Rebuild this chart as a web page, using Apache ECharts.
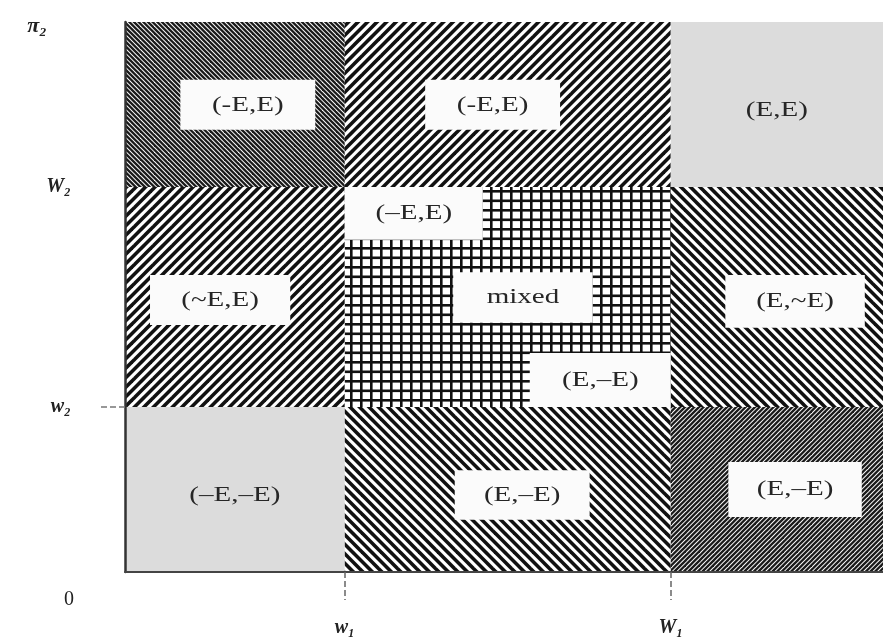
<!DOCTYPE html>
<html><head><meta charset="utf-8">
<script src="https://cdn.jsdelivr.net/npm/echarts@6/dist/echarts.min.js"></script>
<style>html,body{margin:0;padding:0;background:#fff}#c{width:883px;height:642px}</style>
</head><body><div id="c"></div>
<script>
// region boundaries (axis units)
const xBreaks = [0, 2.9, 7.2, 10];
const yBreaks = [0, 3, 7, 10];
const xTickValues = [2.9, 7.2];
const xTickLabels = ['w₁', 'W₁'];
const yTickValues = [3, 7, 10];
const yTickLabels = ['w₂', 'W₂', 'π₂'];
// fill of each region, rows from bottom to top, columns left to right
const rowBottom = ['gray', 'back', 'fineSlash'];
const rowMiddle = ['slash', 'grid', 'back'];
const rowTop = ['fineBack', 'slash', 'gray'];
// region labels
const labelText = ['(-E,E)', '(-E,E)', '(E,E)', '(~E,E)', '(–E,E)', 'mixed', '(E,–E)', '(E,~E)', '(–E,–E)', '(E,–E)', '(E,–E)'];
const labelBoxX0 = [0.73, 3.96, 8.0, 0.33, 2.9, 4.33, 5.34, 7.92, 0.6, 4.35, 7.96];
const labelBoxX1 = [2.51, 5.74, 9.2, 2.18, 4.72, 6.17, 7.2, 9.76, 2.3, 6.13, 9.72];
const labelBoxY0 = [8.04, 8.04, 7.95, 4.49, 6.04, 4.53, 3.0, 4.44, 0.95, 0.95, 1.0];
const labelBoxY1 = [8.95, 8.95, 8.85, 5.4, 7.0, 5.45, 3.98, 5.4, 1.85, 1.85, 2.0];
const labelBoxed = [true, true, false, true, true, true, true, true, false, true, true];

function tile(w, h, draw) {
  const c = document.createElement('canvas');
  c.width = w; c.height = h;
  const g = c.getContext('2d');
  g.fillStyle = '#fff'; g.fillRect(0, 0, w, h);
  draw(g, w, h);
  return c;
}
function diag(s, n, lw, dir, color) {
  return tile(s, s, (g) => {
    g.strokeStyle = color; g.lineWidth = lw;
    const step = s / n;
    for (let k = -2 * n; k <= 2 * n; k++) {
      const o = k * step;
      g.beginPath();
      if (dir > 0) { g.moveTo(o - s, 2 * s); g.lineTo(o + 2 * s, -s); }
      else { g.moveTo(o - s, -s); g.lineTo(o + 2 * s, 2 * s); }
      g.stroke();
    }
  });
}
function gridTile() {
  return tile(10, 19, (g) => {
    g.fillStyle = '#111';
    g.fillRect(0, 0, 2.6, 19);
    g.fillRect(0, 0, 10, 2.6);
    g.fillRect(0, 9.5, 10, 2.6);
  });
}
const patterns = {
  gray: '#dcdcdc',
  slash: { image: diag(19, 2, 3.6, 1, '#111'), repeat: 'repeat' },
  back: { image: diag(19, 2, 3.6, -1, '#111'), repeat: 'repeat' },
  fineBack: { image: diag(14, 3, 2.3, -1, '#1a1a1a'), repeat: 'repeat' },
  fineSlash: { image: diag(14, 3, 2.3, 1, '#1a1a1a'), repeat: 'repeat' },
  grid: { image: gridTile(), repeat: 'repeat' }
};

const regionData = [];
[rowBottom, rowMiddle, rowTop].forEach((row, j) => row.forEach((f, i) => {
  regionData.push([xBreaks[i], xBreaks[i + 1], yBreaks[j], yBreaks[j + 1], f]);
}));
const labelData = labelText.map((t, i) => [labelBoxX0[i], labelBoxX1[i], labelBoxY0[i], labelBoxY1[i], t, labelBoxed[i]]);

const chart = echarts.init(document.getElementById('c'));
const serif = '"Liberation Serif", "DejaVu Serif", serif';
chart.setOption({
  backgroundColor: '#fff',
  animation: false,
  grid: { left: 125, right: 0, top: 22, bottom: 70 },
  xAxis: {
    type: 'value', min: 0, max: 10, z: 10,
    splitLine: { show: false },
    axisLine: { show: true, lineStyle: { color: '#444', width: 2 } },
    axisTick: { show: true, customValues: xTickValues, length: 28, lineStyle: { type: 'dashed', color: '#666', width: 1.5 } },
    axisLabel: {
      customValues: xTickValues, margin: 46,
      formatter: (v) => xTickLabels[xTickValues.indexOf(v)] || '',
      fontFamily: serif, fontSize: 20, fontStyle: 'italic', fontWeight: 'bold', color: '#222'
    }
  },
  yAxis: {
    type: 'value', min: 0, max: 10, z: 10,
    splitLine: { show: false },
    axisLine: { show: true, lineStyle: { color: '#333', width: 2.5 } },
    axisTick: { show: true, customValues: [yTickValues[0]], length: 24, lineStyle: { type: 'dashed', color: '#777', width: 1.5 } },
    axisLabel: {
      customValues: yTickValues, margin: 54,
      formatter: (v) => {
        const i = yTickValues.indexOf(v);
        return i === 2 ? '{p|' + yTickLabels[i] + '}' : (yTickLabels[i] || '');
      },
      rich: { p: { fontFamily: serif, fontSize: 22, fontStyle: 'italic', fontWeight: 'bold', color: '#222', padding: [8, 24, 0, 0] } },
      fontFamily: serif, fontSize: 20, fontStyle: 'italic', fontWeight: 'bold', color: '#222'
    }
  },
  graphic: [{ type: 'text', left: 64, top: 590, style: { text: '0', font: '20px ' + serif, fill: '#222' } }],
  series: [
    {
      type: 'custom', z: 1, clip: true,
      data: regionData,
      renderItem: (params, api) => {
        const d = regionData[params.dataIndex];
        const p0 = api.coord([d[0], d[3]]);
        const p1 = api.coord([d[1], d[2]]);
        return { type: 'rect', shape: { x: p0[0], y: p0[1], width: p1[0] - p0[0], height: p1[1] - p0[1] }, style: { fill: patterns[d[4]] } };
      }
    },
    {
      type: 'custom', z: 2,
      data: labelData,
      renderItem: (params, api) => {
        const d = labelData[params.dataIndex];
        const p0 = api.coord([d[0], d[3]]);
        const p1 = api.coord([d[1], d[2]]);
        const children = [];
        if (d[5]) children.push({ type: 'rect', shape: { x: p0[0], y: p0[1], width: p1[0] - p0[0], height: p1[1] - p0[1] }, style: { fill: '#fbfbfb' } });
        children.push({
          type: 'text', x: (p0[0] + p1[0]) / 2, y: (p0[1] + p1[1]) / 2, scaleX: 1.32,
          style: { x: 0, y: 0, text: d[4], font: '22px ' + serif, fill: '#262626', align: 'center', verticalAlign: 'middle', textAlign: 'center', textVerticalAlign: 'middle' }
        });
        return { type: 'group', children };
      }
    }
  ]
});
</script></body></html>
